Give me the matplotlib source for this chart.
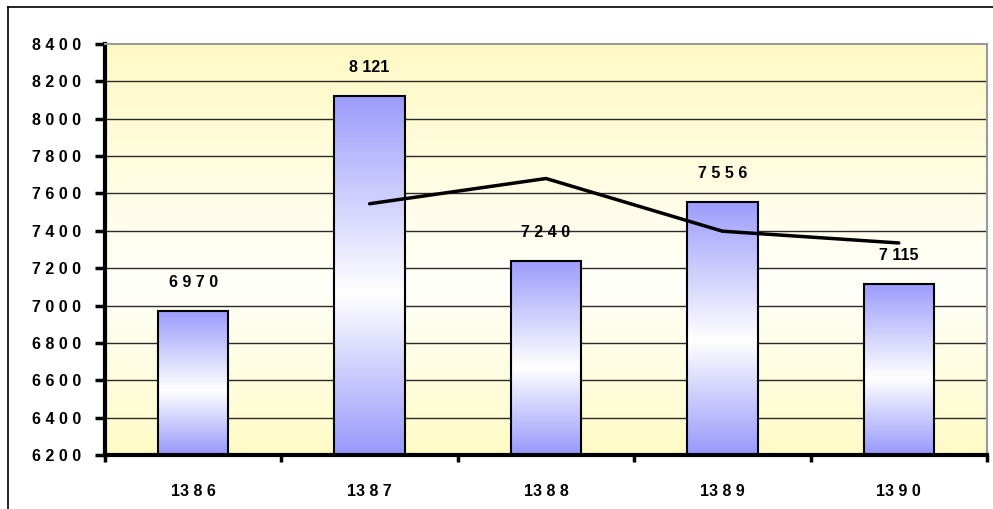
import numpy as np
import matplotlib.pyplot as plt
from matplotlib.colors import LinearSegmentedColormap
from matplotlib.lines import Line2D

years = ['13 8 6', '13 8 7', '13 8 8', '13 8 9', '13 9 0']
values = [6970, 8121, 7240, 7556, 7115]
value_labels = ['6 9 7 0', '8 121', '7 2 4 0', '7 5 5 6', '7 115']
# trend line (2-period moving average as drawn in the picture)
trend_x = [1, 2, 3, 4]
trend_y = [7545, 7680, 7398, 7335]
yticks = [6200, 6400, 6600, 6800, 7000, 7200, 7400, 7600, 7800, 8000, 8200, 8400]

plt.rcParams['font.family'] = ['Liberation Sans', 'DejaVu Sans']

fig = plt.figure(figsize=(9.93, 5.09), dpi=100)
W, H = 993, 509
ax = fig.add_axes([105 / W, (H - 455) / H, 882 / W, 411 / H])

ymin, ymax = 6200, 8400
ax.set_xlim(-0.5, 4.5)
ax.set_ylim(ymin, ymax)

# plot area background: yellow - white - yellow vertical gradient
bg = LinearSegmentedColormap.from_list(
    'bg', [(0.0, '#FEFBC6'), (0.41, '#FFFFFA'), (1.0, '#FFFAC4')])
grad = np.linspace(0, 1, 256).reshape(-1, 1)
ax.imshow(grad, cmap=bg, aspect='auto', origin='lower',
          extent=(-0.5, 4.5, ymin, ymax), zorder=0)

for y in yticks[1:-1]:
    ax.axhline(y, color='#2a2a2a', lw=1.0, zorder=1)

# bars with purple-white-purple gradient
barcm = LinearSegmentedColormap.from_list(
    'bar', [(0.0, '#9898FC'), (0.45, '#FFFFFF'), (1.0, '#9C9CFC')])
bw = 0.40
for i, v in enumerate(values):
    ax.imshow(grad, cmap=barcm, aspect='auto', origin='lower',
              extent=(i - bw / 2, i + bw / 2, ymin, v), zorder=2)
    ax.bar(i, v - ymin, bottom=ymin, width=bw, facecolor='none',
           edgecolor='black', lw=1.5, zorder=3)
    ax.annotate(value_labels[i], (i, v), xytext=(0, 15), textcoords='offset points',
                ha='center', va='bottom', fontsize=11.5, fontweight='bold', zorder=5)

ax.plot(trend_x, trend_y, color='black', lw=2.5, zorder=4, solid_capstyle='round')

ax.set_xlim(-0.5, 4.5)
ax.set_ylim(ymin, ymax)

ax.set_yticks(yticks)
ax.set_yticklabels([' '.join(str(t)) for t in yticks], fontsize=11.5, fontweight='bold')
ax.tick_params(axis='y', length=7, width=2.5, pad=10)

ax.set_xticks(np.arange(-0.5, 5, 1))
ax.set_xticklabels([])
ax.set_xticks(range(5), minor=True)
ax.set_xticklabels(years, minor=True, fontsize=11.5, fontweight='bold')
ax.tick_params(axis='x', which='major', length=5, width=2.5)
ax.tick_params(axis='x', which='minor', length=0, pad=21)

for s in ['left', 'bottom']:
    ax.spines[s].set_linewidth(3)
    ax.spines[s].set_color('black')
for s in ['top', 'right']:
    ax.spines[s].set_linewidth(1.5)
    ax.spines[s].set_color('#9a9a9a')

# outer chart frame (left and top edges)
fig.add_artist(Line2D([8 / W, 8 / W], [0, 1 - 7 / H], color='black', lw=1.2))
fig.add_artist(Line2D([8 / W, 1], [1 - 7 / H, 1 - 7 / H], color='black', lw=1.2))

fig.savefig('out.png', dpi=100)
